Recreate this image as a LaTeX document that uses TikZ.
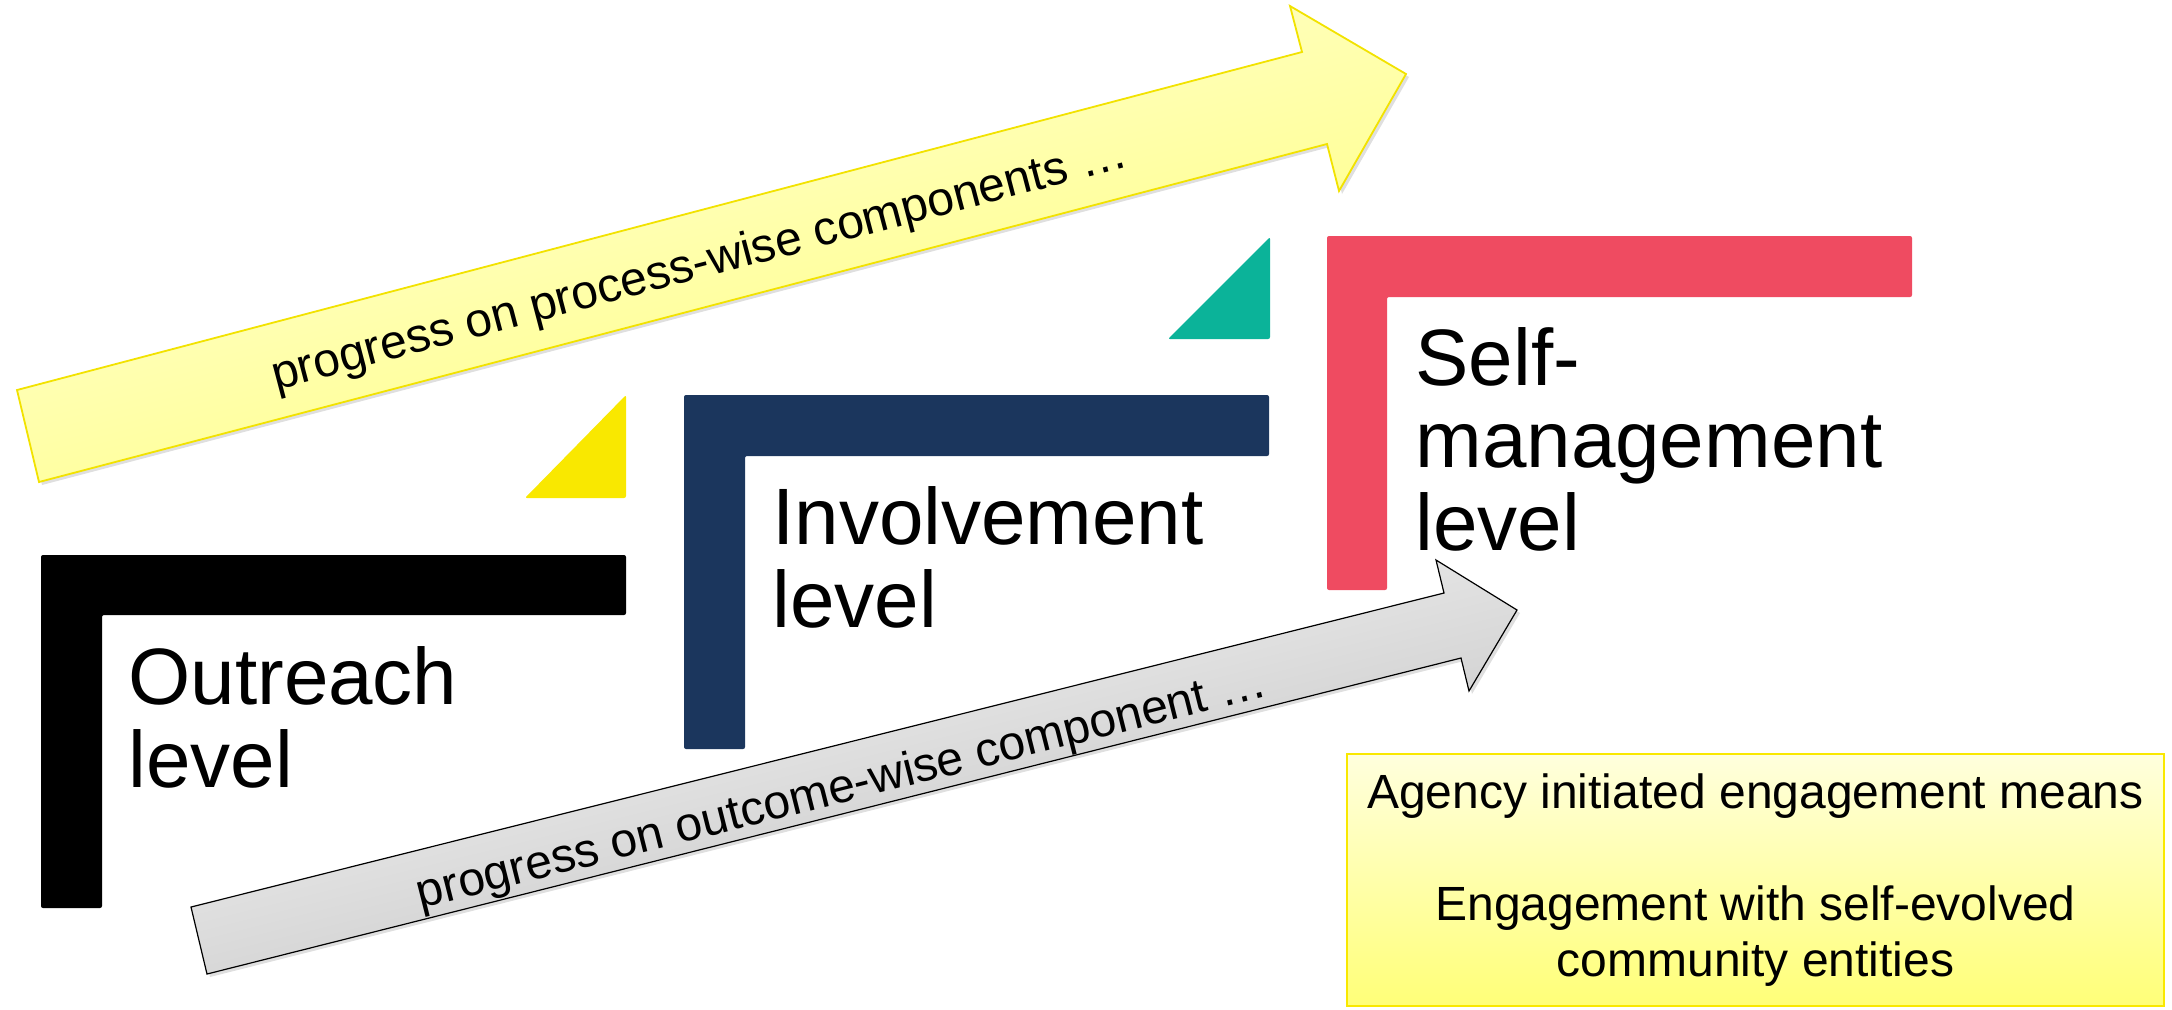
\documentclass[tikz,border=0pt]{standalone}
\usepackage{fontspec}
\setmainfont{Liberation Sans}
\usetikzlibrary{shadows}
\definecolor{lvlnavy}{RGB}{27,54,93}
\definecolor{lvlpink}{RGB}{239,75,97}
\definecolor{lvlteal}{RGB}{11,179,153}
\definecolor{lvlyellow}{RGB}{249,232,0}
\definecolor{procline}{RGB}{242,226,0}
\definecolor{procfill}{RGB}{255,255,120}

\begin{document}
\begin{tikzpicture}[x=0.5pt,y=0.5pt,yscale=-1,
  lbar/.style={rounded corners=1pt},
  corner/.style={rounded corners=1pt},
  levellabel/.style={anchor=base west,inner sep=0pt,align=left,font=\fontsize{40}{41.25}\selectfont},
  arrowlabel/.style={inner sep=0pt,font=\fontsize{24}{28}\selectfont}]
\useasboundingbox (0,0) rectangle (2172,1009);

%Shape: Arrow [id:process]
\draw [draw=procline,line width=0.9pt,top color=procfill!25,bottom color=procfill,shading angle=15,
  drop shadow={opacity=0.25,shadow xshift=1.5pt,shadow yshift=-1.5pt}]
  (17,390) -- (1302,52) -- (1290,6) -- (1406,74) -- (1339,191) -- (1327,144) -- (39,482) -- cycle ;
%Shape: Arrow [id:outcome]
\draw [draw=black,line width=0.6pt,top color=white,bottom color=black!27,shading angle=14,
  drop shadow={opacity=0.25,shadow xshift=1.5pt,shadow yshift=-1.5pt}]
  (191,907) -- (1444,593) -- (1436,560) -- (1517,610) -- (1469,691) -- (1461,658) -- (207,974) -- cycle ;

%Shape: L [id:outreach]
\fill [black,lbar] (41,555) -- (626,555) -- (626,615) -- (102,615) -- (102,908) -- (41,908) -- cycle ;
%Shape: Triangle [id:outreach]
\fill [lvlyellow,corner] (626,395) -- (626,498) -- (525,498) -- cycle ;
%Shape: L [id:involvement]
\fill [lvlnavy,lbar] (684,395) -- (1269,395) -- (1269,456) -- (745,456) -- (745,749) -- (684,749) -- cycle ;
%Shape: Triangle [id:involvement]
\fill [lvlteal,corner] (1270,237) -- (1270,339) -- (1168,339) -- cycle ;
%Shape: L [id:selfmgmt]
\fill [lvlpink,lbar] (1327,236) -- (1912,236) -- (1912,297) -- (1387,297) -- (1387,590) -- (1327,590) -- cycle ;

% Text Node
\node [levellabel] (outreach) at (128,787) {Outreach\\level};
% Text Node
\node [levellabel] (involvement) at (772,627) {Involvement\\level};
% Text Node
\node [levellabel] (selfmgmt) at (1415,550) {Self-\\management\\level};
% Text Node
\node [arrowlabel,rotate=14.7] (proclabel) at (700,266) {progress on process-wise components …};
% Text Node
\node [arrowlabel,rotate=14.1] (outlabel) at (842,790) {progress on outcome-wise component …};

% Text Node
\node [draw=lvlyellow,line width=0.9pt,top color=procfill!25,bottom color=procfill,
  minimum width=408.5pt,minimum height=126pt,inner sep=0pt,align=center,
  font=\fontsize{24}{28}\selectfont] (note) at (1755.5,880)
  {Agency initiated engagement means\\[28pt]Engagement with self-evolved\\community entities};
\end{tikzpicture}
\end{document}
